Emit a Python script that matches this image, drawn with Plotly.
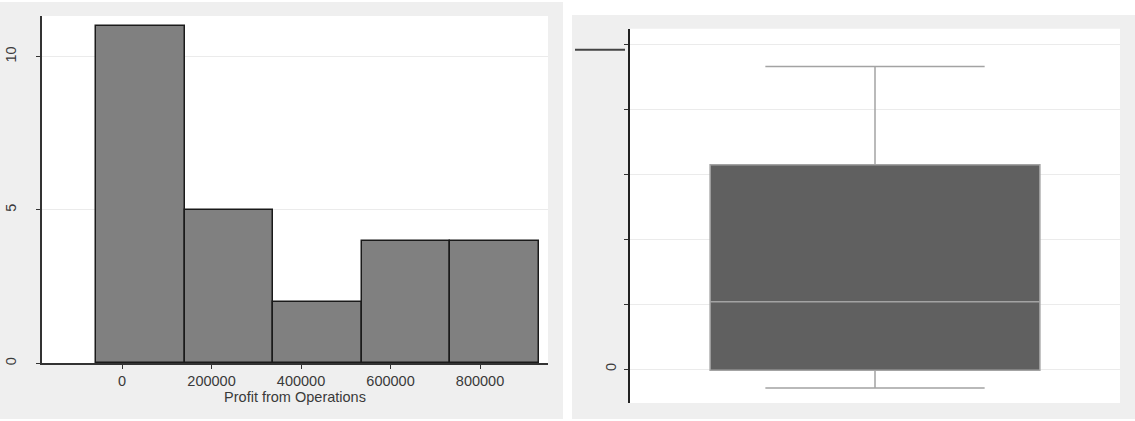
import plotly.graph_objects as go

# Histogram data
bin_edges = [-58000, 140000, 338000, 536000, 734000, 932000]
counts = [11, 5, 2, 4, 4]
x_ticks = [0, 200000, 400000, 600000, 800000]
x_ticklabels = ["0", "200000", "400000", "600000", "800000"]
y_ticks_hist = [0, 5, 10]

# Box plot data (Profit from Operations)
box_q1 = [-3000]
box_median = [208000]
box_q3 = [629000]
box_lower = [-58000]
box_upper = [932000]
box_ticks = [0, 200000, 400000, 600000, 800000, 1000000]
box_ticklabels = ["0", "", "", "", "", ""]

centers = [(a + b) / 2 for a, b in zip(bin_edges[:-1], bin_edges[1:])]
widths = [b - a for a, b in zip(bin_edges[:-1], bin_edges[1:])]

W, H = 1135, 421
def px(x):
    return x / W
def py(y):
    return 1 - y / H

fig = go.Figure()
fig.add_trace(go.Bar(
    x=centers, y=counts, width=widths,
    marker=dict(color="#808080", line=dict(color="#1a1a1a", width=1.5)),
    xaxis="x", yaxis="y", showlegend=False, hoverinfo="skip"))

fig.add_trace(go.Box(
    x=[0], q1=box_q1, median=box_median, q3=box_q3,
    lowerfence=box_lower, upperfence=box_upper,
    fillcolor="#606060", line=dict(color="#a3a3a3", width=1.5),
    width=0.673, whiskerwidth=0.665, boxpoints=False,
    xaxis="x2", yaxis="y2", showlegend=False, hoverinfo="skip"))

font = dict(family="Liberation Sans, Arial, sans-serif", size=14.5, color="#3a3a3a")

grey = "#efefef"
fig.update_layout(
    width=W, height=H,
    margin=dict(l=0, r=0, t=0, b=0),
    paper_bgcolor="white", plot_bgcolor="white",
    font=font, bargap=0,
    xaxis=dict(domain=[px(42), px(548)], range=[-178770, 951960],
               tickvals=x_ticks, ticktext=x_ticklabels,
               ticks="outside", ticklen=4, tickcolor="#333", tickwidth=1,
               showgrid=False, zeroline=False, showline=True, linecolor="#333", linewidth=1.5,
               title=dict(text="Profit from Operations", font=dict(size=14.5, color="#3a3a3a"), standoff=2),
               anchor="y"),
    yaxis=dict(domain=[py(365), py(16)], range=[0, 11.33],
               tickvals=y_ticks_hist, ticks="outside", ticklen=4, tickcolor="#333",
               tickangle=-90, ticklabelstandoff=14,
               showgrid=True, gridcolor="#ebebeb", gridwidth=1,
               zeroline=False, showline=True, linecolor="#333", linewidth=1.5,
               anchor="x"),
    xaxis2=dict(domain=[px(630), px(1120)], range=[-0.5, 0.5],
                showticklabels=False, ticks="", showgrid=False, zeroline=False,
                showline=False, anchor="y2"),
    yaxis2=dict(domain=[py(405), py(29)], range=[-104100, 1047500],
                tickvals=box_ticks, ticktext=box_ticklabels,
                ticks="outside", ticklen=4, tickcolor="#333",
                tickangle=-90, ticklabelstandoff=2,
                showgrid=True, gridcolor="#ebebeb", gridwidth=1,
                zeroline=False, showline=True, linecolor="#222", linewidth=1.5,
                anchor="x2"),
    shapes=[
        dict(type="rect", xref="paper", yref="paper", x0=0, x1=px(563), y0=0, y1=py(2),
             fillcolor=grey, line=dict(width=0), layer="below"),
        dict(type="rect", xref="paper", yref="paper", x0=px(572), x1=1, y0=0, y1=py(15),
             fillcolor=grey, line=dict(width=0), layer="below"),
        dict(type="rect", xref="paper", yref="paper", x0=px(42), x1=px(548), y0=py(365), y1=py(16),
             fillcolor="white", line=dict(width=0), layer="below"),
        dict(type="rect", xref="paper", yref="paper", x0=px(630), x1=px(1120), y0=py(405), y1=py(29),
             fillcolor="white", line=dict(width=0), layer="below"),
        dict(type="line", xref="paper", yref="paper", x0=px(575), x1=px(625), y0=py(50), y1=py(50),
             line=dict(color="#444444", width=2)),
    ],
)

fig.write_html("out.html")
